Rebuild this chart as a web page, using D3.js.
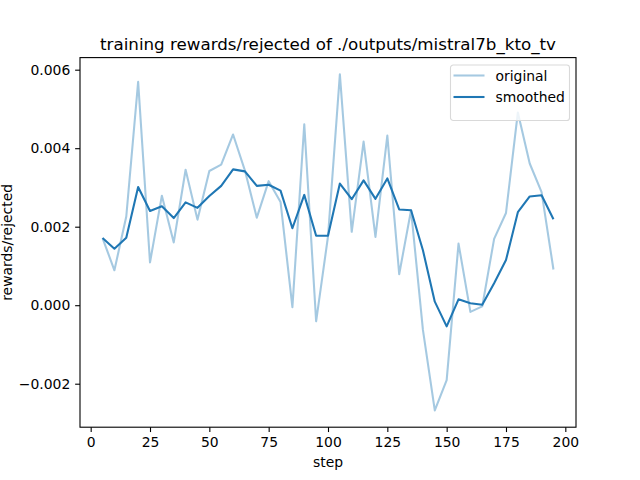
<!DOCTYPE html>
<html lang="en">
<head>
<meta charset="utf-8">
<title>training rewards/rejected</title>
<script src="https://d3js.org/d3.v7.min.js"></script>
<style>
    body { margin: 0; background: #fff; }
    svg { font-family: "DejaVu Sans", sans-serif; }
    .tick text { font-size: 13.9px; fill: #000; }
    .tick line { stroke: #000; stroke-width: 1.1; }
</style>
</head>
<body>
<script>

// data
let steps = [5, 10, 15, 20, 25, 30, 35, 40, 45, 50, 55, 60, 65, 70, 75, 80, 85, 90, 95, 100,
             105, 110, 115, 120, 125, 130, 135, 140, 145, 150, 155, 160, 165, 170, 175, 180, 185, 190, 195];

let original = [1.71, 0.89, 2.26, 5.69, 1.09, 2.79, 1.60, 3.45, 2.18, 3.42,
                3.58, 4.35, 3.43, 2.23, 3.16, 2.63, -0.05, 4.61, -0.41, 1.75,
                5.88, 1.87, 4.17, 1.74, 4.32, 0.79, 2.42, -0.63, -2.68, -1.91,
                1.57, -0.17, -0.03, 1.69, 2.35, 4.91, 3.61, 2.88, 0.91].map(v => v / 1000);

let smoothed = [1.71, 1.44, 1.72, 3.01, 2.40, 2.52, 2.22, 2.62, 2.48, 2.78,
                3.04, 3.46, 3.41, 3.04, 3.07, 2.92, 1.96, 2.81, 1.77, 1.77,
                3.10, 2.70, 3.18, 2.71, 3.23, 2.44, 2.42, 1.40, 0.09, -0.54,
                0.15, 0.05, 0.01, 0.56, 1.15, 2.37, 2.77, 2.80, 2.19].map(v => v / 1000);

let xTicks = [0, 25, 50, 75, 100, 125, 150, 175, 200];
let yTicks = [-0.002, 0.000, 0.002, 0.004, 0.006];

// figure layout (matplotlib defaults for 640x480)
let W = 640, H = 480;
let margin = { top: 57.6, right: 64, bottom: 52.8, left: 80 };
let w = W - margin.left - margin.right,
    h = H - margin.top - margin.bottom;

let blue = "#1f77b4";

// scales with 5% padding like matplotlib
let xExt = d3.extent(steps), xPad = (xExt[1] - xExt[0]) * 0.05;
let xScale = d3.scaleLinear()
    .domain([xExt[0] - xPad, xExt[1] + xPad])
    .range([0, w]);

let yExt = d3.extent(original.concat(smoothed)), yPad = (yExt[1] - yExt[0]) * 0.05;
let yScale = d3.scaleLinear()
    .domain([yExt[0] - yPad, yExt[1] + yPad])
    .range([h, 0]);

let svg = d3.select("body")
    .append("svg")
    .attr("width", W)
    .attr("height", H);

let g = svg.append("g")
    .attr("transform", "translate(" + margin.left + "," + margin.top + ")");

// axes
let fmtY = d => d3.format(".3f")(d).replace("-", "\u2212");

g.append("g")
    .attr("transform", "translate(0," + h + ")")
    .call(d3.axisBottom(xScale).tickValues(xTicks).tickSize(4.86).tickPadding(4.9).tickFormat(d3.format("d")))
    .call(a => a.select(".domain").remove());

g.append("g")
    .call(d3.axisLeft(yScale).tickValues(yTicks).tickSize(4.86).tickPadding(4.9).tickFormat(fmtY))
    .call(a => a.select(".domain").remove());

g.selectAll(".tick text").attr("font-family", "DejaVu Sans").attr("font-size", 13.9);

// lines
let line = d3.line()
    .x((d, i) => xScale(steps[i]))
    .y(d => yScale(d));

g.append("path")
    .datum(original)
    .attr("fill", "none")
    .attr("stroke", blue)
    .attr("stroke-opacity", 0.4)
    .attr("stroke-width", 2.08)
    .attr("stroke-linejoin", "round")
    .attr("d", line);

g.append("path")
    .datum(smoothed)
    .attr("fill", "none")
    .attr("stroke", blue)
    .attr("stroke-width", 2.08)
    .attr("stroke-linejoin", "round")
    .attr("d", line);

// frame
g.append("rect")
    .attr("width", w)
    .attr("height", h)
    .attr("fill", "none")
    .attr("stroke", "#000")
    .attr("stroke-width", 1.1);

// title and axis labels
svg.append("text")
    .attr("x", margin.left + w / 2)
    .attr("y", 49.5)
    .attr("text-anchor", "middle")
    .attr("font-size", 16.7)
    .text("training rewards/rejected of ./outputs/mistral7b_kto_tv");

svg.append("text")
    .attr("x", margin.left + w / 2)
    .attr("y", 466.5)
    .attr("text-anchor", "middle")
    .attr("font-size", 13.9)
    .text("step");

svg.append("text")
    .attr("transform", "translate(12," + (margin.top + h / 2) + ") rotate(-90)")
    .attr("text-anchor", "middle")
    .attr("font-size", 13.9)
    .text("rewards/rejected");

// legend
let legend = [
    { name: "original", opacity: 0.4 },
    { name: "smoothed", opacity: 1 }
];

let lg = svg.append("g").attr("transform", "translate(450.5,65)");

lg.append("rect")
    .attr("width", 119)
    .attr("height", 55.5)
    .attr("rx", 2.8)
    .attr("fill", "#fff")
    .attr("fill-opacity", 0.8)
    .attr("stroke", "#d9d9d9")
    .attr("stroke-width", 1.1);

let items = lg.selectAll("g.item")
    .data(legend)
    .enter()
    .append("g")
    .attr("class", "item")
    .attr("transform", (d, i) => "translate(0," + (10.5 + i * 21.5) + ")");

items.append("line")
    .attr("x1", 3)
    .attr("x2", 34)
    .attr("stroke", blue)
    .attr("stroke-opacity", d => d.opacity)
    .attr("stroke-width", 2.08);

items.append("text")
    .attr("x", 45)
    .attr("y", 5)
    .attr("font-size", 13.9)
    .text(d => d.name);

</script>
</body>
</html>
